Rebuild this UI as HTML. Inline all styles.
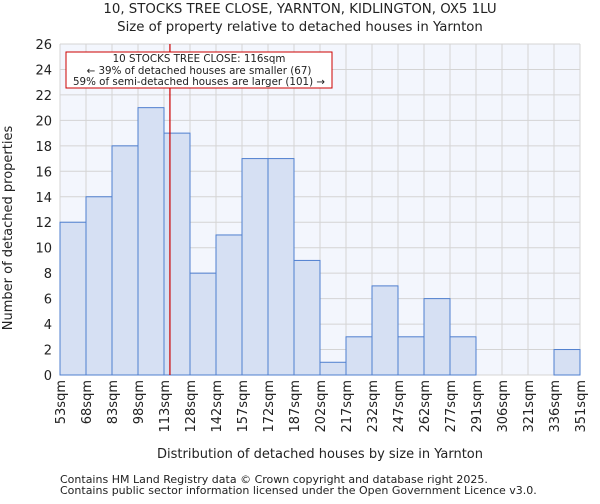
<!DOCTYPE html>
<html><head><meta charset="utf-8"><style>
body{margin:0;background:#fff;font-family:"DejaVu Sans","Liberation Sans",sans-serif;}
svg text{font-family:"DejaVu Sans","Liberation Sans",sans-serif;fill:#222;}
</style></head><body>
<svg id="c" width="600" height="500" xmlns="http://www.w3.org/2000/svg">
<text x="300" y="13" text-anchor="middle" font-size="13.3">10, STOCKS TREE CLOSE, YARNTON, KIDLINGTON, OX5 1LU</text>
<text x="300" y="31" text-anchor="middle" font-size="13.3">Size of property relative to detached houses in Yarnton</text>
<rect x="60" y="44" width="520" height="331" fill="#f3f6fd"/>
<g id="grid"></g><g id="bars"></g><g id="ticks"></g>
<text x="320" y="458" text-anchor="middle" font-size="13">Distribution of detached houses by size in Yarnton</text>
<text transform="translate(12,228) rotate(-90)" text-anchor="middle" font-size="13">Number of detached properties</text>
<text x="60" y="483" font-size="11" fill="#555">Contains HM Land Registry data © Crown copyright and database right 2025.</text>
<text x="60" y="494" font-size="11" fill="#555">Contains public sector information licensed under the Open Government Licence v3.0.</text>
<g id="marker"></g>
<rect x="66" y="52" width="266" height="36" fill="#fff" stroke="#cc0000"/>
<text x="199" y="62" text-anchor="middle" font-size="10.3">10 STOCKS TREE CLOSE: 116sqm</text>
<text x="199" y="74" text-anchor="middle" font-size="10.3">← 39% of detached houses are smaller (67)</text>
<text x="199" y="85" text-anchor="middle" font-size="10.3">59% of semi-detached houses are larger (101) →</text>
</svg>
<script>
const categories=["53sqm","68sqm","83sqm","98sqm","113sqm","128sqm","142sqm","157sqm","172sqm","187sqm","202sqm","217sqm","232sqm","247sqm","262sqm","277sqm","291sqm","306sqm","321sqm","336sqm","351sqm"];
const counts=[12,14,18,21,19,8,11,17,17,9,1,3,7,3,6,3,0,0,0,2];
const yTicks=[0,2,4,6,8,10,12,14,16,18,20,22,24,26];
const binStart=53, binWidth=14.9, markerValue=116;
const L=60,R=580,T=44,B=375,yMax=26;
const n=counts.length;
const xb=i=>L+(R-L)*i/n;
const xv=v=>L+(R-L)*(v-binStart)/(binWidth*n);
const y=v=>B-(B-T)*v/yMax;
const NS="http://www.w3.org/2000/svg";
function mk(tag,attrs,parent,text){const e=document.createElementNS(NS,tag);for(const k in attrs)e.setAttribute(k,attrs[k]);if(text!==undefined)e.textContent=text;document.getElementById(parent).appendChild(e);return e;}
yTicks.forEach(t=>{
 const g=mk("line",{x1:L,x2:R,y1:y(t),y2:y(t),stroke:"#d4d4d4","stroke-width":1},"grid");
 
 
 const lb=mk("text",{x:L-8,y:y(t)+5,"text-anchor":"end","font-size":13},"ticks",String(t));
 
 
});
categories.forEach((c,i)=>{
 const g=mk("line",{x1:xb(i),x2:xb(i),y1:T,y2:B,stroke:"#d4d4d4","stroke-width":1},"grid");
 
 
 const x=xb(i);
 const lb=mk("text",{transform:`translate(${x+5},380) rotate(-90)`,"text-anchor":"end","font-size":13},"ticks",c);
 
 
});
counts.forEach((v,i)=>{
 if(v<=0)return;
 const r=mk("rect",{x:xb(i),y:y(v),width:xb(i+1)-xb(i),height:B-y(v),fill:"#d6e0f3",stroke:"#4f7fcf","stroke-width":1},"bars");
 
 
});
const m=mk("line",{x1:xv(markerValue),x2:xv(markerValue),y1:T,y2:B,stroke:"#cc0000","stroke-width":1.2},"marker");


</script>
</body></html>
